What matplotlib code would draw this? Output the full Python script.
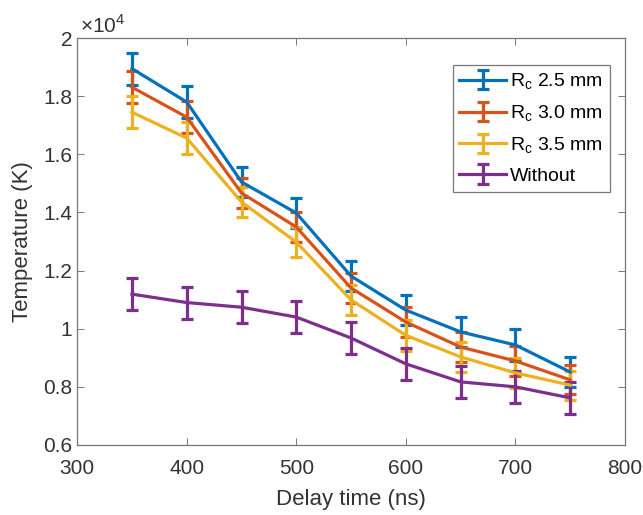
import matplotlib
matplotlib.use("Agg")
import matplotlib.pyplot as plt
from matplotlib.ticker import FuncFormatter

plt.rcParams['font.family'] = ['Liberation Sans', 'DejaVu Sans']

# data (K)
delay = [350, 400, 450, 500, 550, 600, 650, 700, 750]
t_25 = [18950, 17800, 15050, 13980, 11810, 10640, 9890, 9440, 8510]
t_30 = [18310, 17280, 14670, 13500, 11400, 10230, 9370, 8890, 8240]
t_35 = [17450, 16560, 14360, 12980, 10990, 9770, 9030, 8480, 8060]
t_wo = [11190, 10900, 10740, 10400, 9680, 8790, 8170, 8000, 7620]
err_25 = [550, 550, 520, 520, 520, 520, 520, 550, 500]
err_30 = [550, 550, 520, 520, 520, 520, 520, 520, 500]
err_35 = [550, 550, 520, 520, 520, 520, 520, 520, 500]
err_wo = [550, 550, 550, 550, 550, 550, 550, 550, 550]
labels = ['R$_\\mathregular{c}$ 2.5 mm', 'R$_\\mathregular{c}$ 3.0 mm',
          'R$_\\mathregular{c}$ 3.5 mm', 'Without']
colors = ['#0072BD', '#D95319', '#EDB120', '#7E2F8E']

fig = plt.figure(figsize=(6.43, 5.15), dpi=100)
ax = fig.add_axes([0.12, 0.136, 0.852, 0.79])

for y, e, lab, c in zip([t_25, t_30, t_35, t_wo], [err_25, err_30, err_35, err_wo], labels, colors):
    ax.errorbar(delay, y, yerr=e, color=c, lw=2.3, elinewidth=2.3, capsize=4, capthick=2.3, label=lab)

ax.set_xlim(300, 800)
ax.set_ylim(6000, 20000)
ax.set_xticks(range(300, 801, 100))
ax.set_yticks(range(6000, 20001, 2000))
ax.yaxis.set_major_formatter(FuncFormatter(lambda v, p: '%g' % (v / 1e4)))
ax.tick_params(direction='in', top=True, right=True, labelsize=15, labelcolor='#333333',
               color='#777777', length=5, width=0.7)
ax.tick_params(axis='x', pad=10)
for s in ax.spines.values():
    s.set_color('#777777')
    s.set_linewidth(0.9)
ax.text(0.005, 1.003, '×10$^\\mathregular{4}$', transform=ax.transAxes, fontsize=15, color='#333333', va='bottom')
ax.set_xlabel('Delay time (ns)', fontsize=16, color='#333333', labelpad=8)
ax.set_ylabel('Temperature (K)', fontsize=16, color='#333333', labelpad=7)

leg = ax.legend(loc='upper right', bbox_to_anchor=(0.972, 0.935), fontsize=14, fancybox=False,
                edgecolor='#777777', framealpha=1, handlelength=2.4, borderpad=0.35,
                labelspacing=0.6, handletextpad=0.2, borderaxespad=0)
leg.get_frame().set_linewidth(0.9)

fig.savefig('out.png', dpi=100)
